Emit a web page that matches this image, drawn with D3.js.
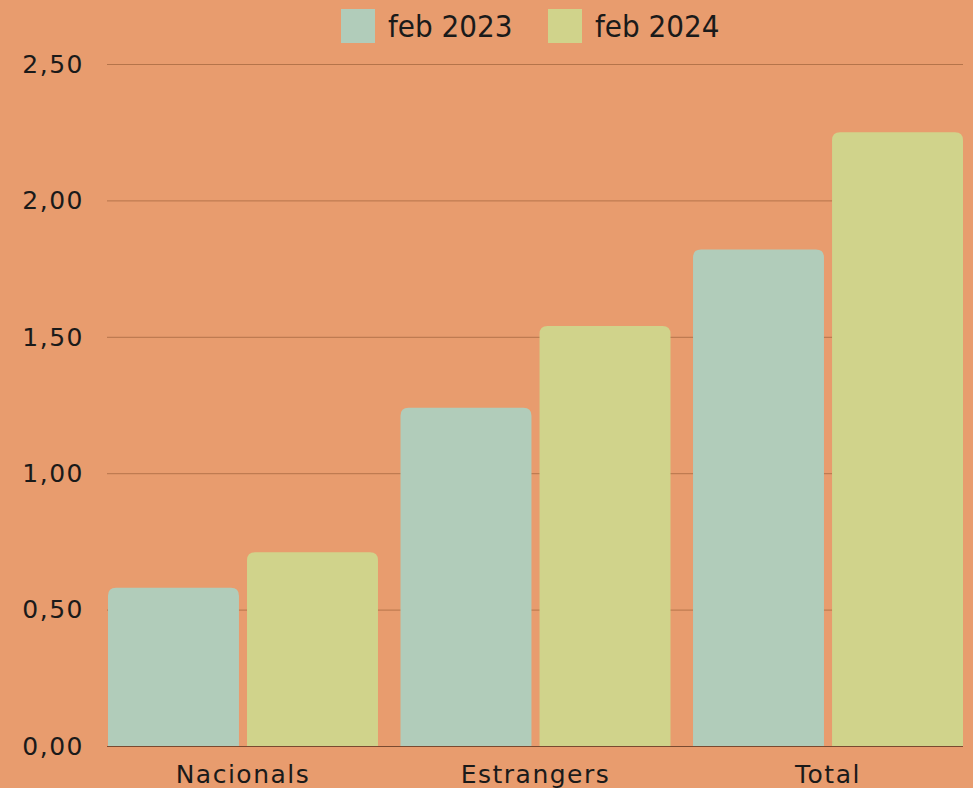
<!DOCTYPE html>
<html>
<head>
<meta charset="utf-8">
<script src="https://cdn.jsdelivr.net/npm/d3@7"></script>
<style>
  body { margin: 0; background: #E89C6E; }
  svg { display: block; }
</style>
</head>
<body>
  <script>
    const categories = ["Nacionals", "Estrangers", "Total"];
    const seriesNames = ["feb 2023", "feb 2024"];
    const feb2023 = [0.58, 1.24, 1.82];
    const feb2024 = [0.71, 1.54, 2.25];
    const yTicks = [0, 0.5, 1, 1.5, 2, 2.5];

    const w = 973;
    const h = 788;
    const colors = ["#B1CCBA", "#D0D38B"];

    const svg = d3.select("body")
                  .append("svg")
                  .attr("width", w)
                  .attr("height", h);

    svg.append("rect").attr("width", w).attr("height", h).attr("fill", "#E89C6E");

    const x0 = d3.scaleBand()
                 .domain(categories)
                 .range([108, 963])
                 .paddingInner(0.077);

    const x1 = d3.scaleBand()
                 .domain(seriesNames)
                 .range([0, x0.bandwidth()])
                 .paddingInner(0.058);

    const y = d3.scaleLinear()
                .domain([0, 2.5])
                .range([746, 64]);

    const fmt = v => d3.format(".2f")(v).replace(".", ",");

    // grid lines
    svg.selectAll("line.grid")
       .data(yTicks)
       .enter()
       .append("line")
       .attr("class", "grid")
       .attr("x1", 107)
       .attr("x2", 963)
       .attr("y1", d => y(d) + 0.5)
       .attr("y2", d => y(d) + 0.5)
       .attr("stroke", d => d === 0 ? "#7a4a30" : "#B5744A")
       .attr("stroke-width", 1);

    svg.selectAll("text.ytick")
       .data(yTicks)
       .enter()
       .append("text")
       .attr("class", "ytick")
       .attr("x", 84)
       .attr("y", d => y(d))
       .attr("dy", "0.35em")
       .attr("text-anchor", "end")
       .attr("font-family", "DejaVu Sans")
       .attr("font-size", 25)
       .attr("letter-spacing", 1.5)
       .attr("fill", "#1a1a1a")
       .text(fmt);

    // bars with rounded top corners
    const r = 8;
    const barPath = (x, top, bw, bottom) => {
      const rr = Math.min(r, (bottom - top));
      return `M${x},${bottom}V${top + rr}Q${x},${top} ${x + rr},${top}` +
             `H${x + bw - rr}Q${x + bw},${top} ${x + bw},${top + rr}V${bottom}Z`;
    };

    const rows = categories.map((c, i) => ({ cat: c, vals: [feb2023[i], feb2024[i]] }));

    const groups = svg.selectAll("g.cat")
       .data(rows)
       .enter()
       .append("g")
       .attr("transform", d => `translate(${x0(d.cat)},0)`);

    groups.selectAll("path")
       .data(d => d.vals.map((v, j) => ({ s: seriesNames[j], v: v, j: j })))
       .enter()
       .append("path")
       .attr("d", d => barPath(x1(d.s), y(d.v), x1.bandwidth(), y(0)))
       .attr("fill", d => colors[d.j]);

    svg.selectAll("text.xlab")
       .data(categories)
       .enter()
       .append("text")
       .attr("class", "xlab")
       .attr("x", d => x0(d) + x0.bandwidth() / 2)
       .attr("y", 783)
       .attr("text-anchor", "middle")
       .attr("font-family", "DejaVu Sans")
       .attr("font-size", 25)
       .attr("letter-spacing", 1.5)
       .attr("fill", "#1a1a1a")
       .text(d => d);

    // legend
    const legendX = [341, 548];
    const legend = svg.selectAll("g.legend")
       .data(seriesNames)
       .enter()
       .append("g")
       .attr("transform", (d, i) => `translate(${legendX[i]},9)`);

    legend.append("rect")
       .attr("width", 34)
       .attr("height", 34)
       .attr("fill", (d, i) => colors[i]);

    legend.append("text")
       .attr("x", 47)
       .attr("y", 17)
       .attr("dy", "0.36em")
       .attr("font-family", "DejaVu Sans Condensed, DejaVu Sans")
       .attr("font-stretch", "condensed")
       .attr("font-size", 31)
       .attr("fill", "#1a1a1a")
       .text(d => d);
  </script>
</body>
</html>
